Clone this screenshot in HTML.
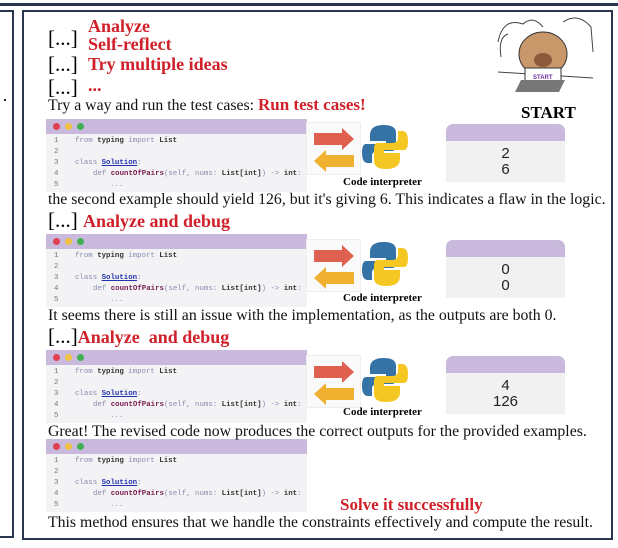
<!DOCTYPE html>
<html><head><meta charset="utf-8"><style>
*{margin:0;padding:0;box-sizing:border-box}
body{width:618px;height:548px;background:#fff;position:relative;overflow:hidden;font-family:"Liberation Serif",serif}
.a{position:absolute;white-space:nowrap}
.r{color:#d0202a;font-weight:bold;font-family:"Liberation Serif",serif}
.t{font-size:15.8px;color:#111;line-height:18px}
.code{position:absolute;left:46px;width:261px;height:73px;background:#f3f3f5;font-family:"Liberation Mono",monospace;font-size:7.4px;line-height:11px;color:#8a8ab0}
.code .h{height:15px;background:#c9b9dd;position:relative}
.code .h i{position:absolute;top:4px;width:7px;height:7px;border-radius:50%}
.ln{position:absolute;left:8px;color:#777}
.cl{position:absolute;left:29px}
.k{color:#333;font-weight:bold}
.s{color:#2233aa;font-weight:bold;text-decoration:underline}
.arr{position:absolute;left:306px;width:55px;height:53px;background:#fafafa;border:1px solid #eee}
.out{position:absolute;left:446px;width:119px;height:58px;background:#f1f1f1;border-radius:7px 7px 0 0;overflow:hidden;font-family:"Liberation Sans",sans-serif;font-size:15px;text-align:center;line-height:16px;color:#222}
.out .hh{height:17px;background:#c9b9dd;margin-bottom:5px}
.ci{position:absolute;left:343px;font-size:11px;font-weight:bold;font-family:"Liberation Serif",serif}
</style></head><body>
<div class="a" style="left:0;top:3px;width:618px;height:3px;background:#2a3550"></div>
<div class="a" style="left:0;top:10px;width:14px;height:528px;border:2px solid #2a3550;border-left:none"></div>
<div class="a" style="left:4px;top:99px;width:2px;height:2px;background:#222"></div>
<div class="a" style="left:22px;top:10px;width:591px;height:530px;border:2px solid #2a3550"></div>

<div class="a" style="left:48px;top:26px;font-size:21px">[...]</div>
<div class="a r" style="left:88px;top:16px;font-size:18px">Analyze</div>
<div class="a r" style="left:88px;top:34px;font-size:18px">Self-reflect</div>
<div class="a" style="left:48px;top:52px;font-size:21px">[...]</div>
<div class="a r" style="left:88px;top:54px;font-size:18px">Try multiple ideas</div>
<div class="a" style="left:48px;top:75px;font-size:21px">[...]</div>
<div class="a r" style="left:88px;top:75px;font-size:18px">...</div>
<div class="a t" style="left:48px;top:96px">Try a way and run the test cases: <span class="r" style="font-size:17px">Run test cases!</span></div>

<svg class="a" style="left:493px;top:12px" width="104" height="80" viewBox="0 0 104 80">
<path d="M5 30 Q10 5 30 12 Q40 3 50 15 M70 10 Q85 0 98 15 L100 40 M8 45 Q5 25 15 22" stroke="#444" fill="none" stroke-width="1"/>
<path d="M5 60 L100 66" stroke="#444" stroke-width="1"/>
<ellipse cx="50" cy="42" rx="24" ry="22" fill="#c8976a" stroke="#333"/>
<ellipse cx="50" cy="48" rx="9" ry="7" fill="#8a5a3a"/>
<rect x="32" y="56" width="36" height="14" fill="#fff" stroke="#333"/>
<text x="40" y="67" font-size="6" fill="#7030a0" font-family="Liberation Sans" font-weight="bold">START</text>
<path d="M28 68 L72 68 L66 80 L22 80Z" fill="#777"/>
</svg>
<div class="a" style="left:521px;top:103px;font-size:17px;font-weight:bold">START</div>

<div class="code" style="top:119px"><div class="h"><i style="left:7px;background:#e04050"></i><i style="left:19px;background:#f0c040"></i><i style="left:31px;background:#40b050"></i></div>
<span class="ln" style="top:17px">1</span><span class="cl" style="top:17px">from <b class="k">typing</b> import <b class="k">List</b></span>
<span class="ln" style="top:28px">2</span><span class="ln" style="top:39px">3</span><span class="cl" style="top:39px">class <b class="s">Solution</b>:</span>
<span class="ln" style="top:50px">4</span><span class="cl" style="top:50px;left:47px">def <b class="k" style="color:#7a2050">countOfPairs</b>(self, nums: <b class="k">List[int]</b>) -&gt; <b class="k">int</b>:</span>
<span class="ln" style="top:61px">5</span><span class="cl" style="top:61px;left:64px">...</span></div>
<div class="code" style="top:234px"><div class="h"><i style="left:7px;background:#e04050"></i><i style="left:19px;background:#f0c040"></i><i style="left:31px;background:#40b050"></i></div>
<span class="ln" style="top:17px">1</span><span class="cl" style="top:17px">from <b class="k">typing</b> import <b class="k">List</b></span>
<span class="ln" style="top:28px">2</span><span class="ln" style="top:39px">3</span><span class="cl" style="top:39px">class <b class="s">Solution</b>:</span>
<span class="ln" style="top:50px">4</span><span class="cl" style="top:50px;left:47px">def <b class="k" style="color:#7a2050">countOfPairs</b>(self, nums: <b class="k">List[int]</b>) -&gt; <b class="k">int</b>:</span>
<span class="ln" style="top:61px">5</span><span class="cl" style="top:61px;left:64px">...</span></div>
<div class="code" style="top:350px"><div class="h"><i style="left:7px;background:#e04050"></i><i style="left:19px;background:#f0c040"></i><i style="left:31px;background:#40b050"></i></div>
<span class="ln" style="top:17px">1</span><span class="cl" style="top:17px">from <b class="k">typing</b> import <b class="k">List</b></span>
<span class="ln" style="top:28px">2</span><span class="ln" style="top:39px">3</span><span class="cl" style="top:39px">class <b class="s">Solution</b>:</span>
<span class="ln" style="top:50px">4</span><span class="cl" style="top:50px;left:47px">def <b class="k" style="color:#7a2050">countOfPairs</b>(self, nums: <b class="k">List[int]</b>) -&gt; <b class="k">int</b>:</span>
<span class="ln" style="top:61px">5</span><span class="cl" style="top:61px;left:64px">...</span></div>
<div class="code" style="top:439px"><div class="h"><i style="left:7px;background:#e04050"></i><i style="left:19px;background:#f0c040"></i><i style="left:31px;background:#40b050"></i></div>
<span class="ln" style="top:17px">1</span><span class="cl" style="top:17px">from <b class="k">typing</b> import <b class="k">List</b></span>
<span class="ln" style="top:28px">2</span><span class="ln" style="top:39px">3</span><span class="cl" style="top:39px">class <b class="s">Solution</b>:</span>
<span class="ln" style="top:50px">4</span><span class="cl" style="top:50px;left:47px">def <b class="k" style="color:#7a2050">countOfPairs</b>(self, nums: <b class="k">List[int]</b>) -&gt; <b class="k">int</b>:</span>
<span class="ln" style="top:61px">5</span><span class="cl" style="top:61px;left:64px">...</span></div>

<svg width="0" height="0" style="position:absolute"><defs>
<g id="ip">
<path d="M8 10 H36 V5 L48 16 L36 27 V22 H8Z" fill="#e06050"/>
<path d="M48 32 H20 V27 L8 38 L20 49 V44 H48Z" fill="#f0b030"/>
<path d="M78 2 Q64 2 64 12 V18 H80 V21 H60 Q56 21 56 30 Q56 40 62 40 H66 V33 Q66 28 72 28 H86 Q90 28 90 22 V10 Q90 2 78 2Z" fill="#3572a5"/>
<path d="M80 46 Q94 46 94 36 V30 H78 V27 H98 Q102 27 102 18 Q102 8 96 8 H92 V15 Q92 20 86 20 H72 Q68 20 68 26 V38 Q68 46 80 46Z" fill="#f5c722"/>
</g></defs></svg>
<div class="arr" style="top:122px"></div><svg class="a" style="left:306px;top:123px" width="110" height="50"><use href="#ip"/></svg>
<div class="arr" style="top:239px"></div><svg class="a" style="left:306px;top:240px" width="110" height="50"><use href="#ip"/></svg>
<div class="arr" style="top:355px"></div><svg class="a" style="left:306px;top:356px" width="110" height="50"><use href="#ip"/></svg>
<div class="ci" style="top:176px">Code interpreter</div>
<div class="ci" style="top:292px">Code interpreter</div>
<div class="ci" style="top:406px">Code interpreter</div>

<div class="out" style="top:124px"><div class="hh"></div>2<br>6</div>
<div class="out" style="top:240px"><div class="hh"></div>0<br>0</div>
<div class="out" style="top:356px"><div class="hh"></div>4<br>126</div>

<div class="a t" style="left:48px;top:191px">the second example should yield 126, but it's giving 6. This indicates a flaw in the logic.</div>
<div class="a" style="left:48px;top:208px;font-size:21px">[...] <span class="r" style="font-size:18px">Analyze and debug</span></div>
<div class="a t" style="left:48px;top:307px">It seems there is still an issue with the implementation, as the outputs are both 0.</div>
<div class="a" style="left:48px;top:324px;font-size:21px">[...]<span class="r" style="font-size:18px">Analyze &nbsp;and debug</span></div>
<div class="a t" style="left:48px;top:423px">Great! The revised code now produces the correct outputs for the provided examples.</div>
<div class="a r" style="left:340px;top:495px;font-size:17px">Solve it successfully</div>
<div class="a t" style="left:48px;top:514px">This method ensures that we handle the constraints effectively and compute the result.</div>
</body></html>
